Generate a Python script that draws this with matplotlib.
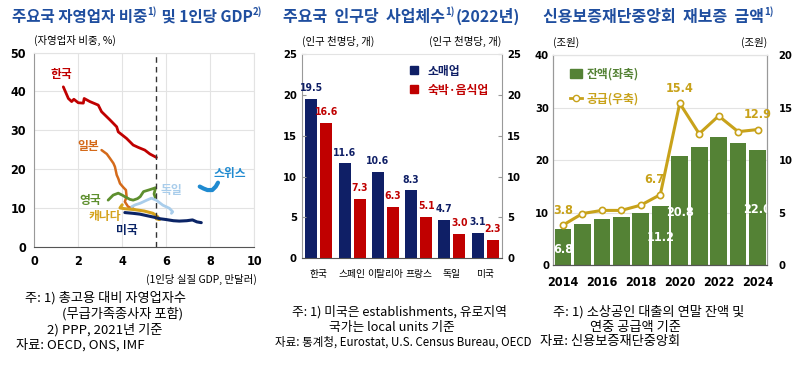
import numpy as np
import matplotlib.pyplot as plt
from matplotlib import font_manager as fm
from matplotlib.lines import Line2D
from matplotlib.patches import Patch

plt.rcParams['font.family'] = ['Noto Sans CJK KR', 'DejaVu Sans']
TITLE_COLOR = '#1F4E9F'

# condensed face for numbers if one is installed, else the CJK face
cond = [f for f in fm.fontManager.ttflist
        if f.name == 'DejaVu Sans' and f.stretch == 'condensed' and f.weight in (700, 'bold')]
if cond:
    NUM_FP = dict(fontproperties=fm.FontProperties(fname=cond[0].fname))
    NUM_SIZE = 9
else:
    NUM_FP = dict(family=['Noto Sans CJK KR'], fontweight='bold')
    NUM_SIZE = 8.5

# ---- panel 1: self-employment share vs GDP per capita ----
kor_gdp = [1.32, 1.55, 1.70, 1.80, 2.00, 2.23, 2.27, 2.53, 2.91, 3.06, 3.44, 3.75, 3.82, 4.20, 4.50, 4.73, 5.03, 5.26, 5.56]
kor_share = [41.2, 38.2, 37.4, 38.0, 37.1, 37.0, 38.2, 37.4, 36.5, 34.8, 32.7, 30.9, 29.6, 27.9, 26.2, 25.6, 24.9, 23.9, 23.0]
jpn_gdp = [3.06, 3.30, 3.44, 3.60, 3.67, 3.75, 3.82, 3.90, 4.05, 4.17, 4.20, 4.12, 4.27, 4.45, 4.58]
jpn_share = [24.9, 23.9, 22.8, 21.5, 20.6, 18.5, 17.6, 16.3, 15.3, 14.6, 12.9, 11.6, 10.3, 10.0, 9.5]
gbr_gdp = [3.36, 3.59, 3.82, 4.00, 4.12, 4.35, 4.50, 4.70, 4.82, 4.97, 5.20, 5.42, 5.52, 5.45, 5.50]
gbr_share = [12.0, 13.3, 13.8, 13.3, 12.9, 12.2, 12.0, 12.4, 12.9, 14.2, 14.6, 15.0, 15.2, 13.6, 12.8]
deu_gdp = [4.43, 4.60, 4.82, 5.12, 5.33, 5.55, 5.85, 6.15, 6.30, 6.24]
deu_share = [10.3, 10.8, 11.2, 12.0, 12.5, 12.0, 10.7, 9.9, 9.0, 8.6]
can_gdp = [4.00, 3.90, 4.10, 4.50, 5.00, 5.40, 5.60, 5.70, 5.55]
can_share = [10.8, 10.0, 9.8, 9.6, 9.2, 8.6, 7.8, 7.0, 7.2]
usa_gdp = [4.12, 4.50, 4.80, 5.12, 5.45, 5.73, 6.00, 6.33, 6.60, 6.94, 7.20, 7.40, 7.60]
usa_share = [8.8, 8.6, 8.4, 8.0, 7.6, 7.2, 7.0, 6.7, 6.6, 6.7, 6.9, 6.4, 6.2]
che_gdp = [7.53, 7.70, 7.88, 8.10, 8.26, 8.36]
che_share = [15.5, 15.0, 14.6, 14.6, 15.5, 16.5]
gdp_ref = 5.55

# ---- panel 2: businesses per 1,000 people ----
countries = ['한국', '스페인', '이탈리아', '프랑스', '독일', '미국']
retail = [19.5, 11.6, 10.6, 8.3, 4.7, 3.1]
food = [16.6, 7.3, 6.3, 5.1, 3.0, 2.3]

# ---- panel 3: re-guarantee amounts ----
years = [2014, 2015, 2016, 2017, 2018, 2019, 2020, 2021, 2022, 2023, 2024]
balance = [6.8, 7.9, 8.8, 9.2, 10.0, 11.2, 20.8, 22.4, 24.3, 23.2, 22.0]
supply = [3.8, 4.9, 5.2, 5.2, 5.7, 6.7, 15.4, 12.5, 14.2, 12.7, 12.9]
label_years = [2014, 2019, 2020, 2024]

fig = plt.figure(figsize=(8, 3.68), dpi=100)


def chain_title(x, y, parts, size=11.5):
    # first piece placed on the figure, the rest chained to its right; "sup" pieces raised
    base = fig.text(x, y, parts[0][0], fontsize=size, fontweight='bold',
                    color=TITLE_COLOR, va='bottom', ha='left')
    prev = base
    for txt, sup in parts[1:]:
        prev = fig.add_artist(plt.matplotlib.text.Annotation(
            txt, xy=(1, 0), xycoords=(prev, base), xytext=(0.3, 5.5 if sup else 0),
            textcoords='offset points', fontsize=7 if sup else size, fontweight='bold',
            color=TITLE_COLOR, ha='left', va='bottom', annotation_clip=False))
    return base


def style_nums(labels, size=None):
    for lab in labels:
        lab.set(**NUM_FP)
        lab.set_fontsize(size or NUM_SIZE)


# ================= panel 1 =================
ax1 = fig.add_axes([0.0429, 0.3296, 0.2746, 0.5272])
series = [
    (kor_gdp, kor_share, '#C00000', 2.0),
    (jpn_gdp, jpn_share, '#D46A1A', 1.8),
    (deu_gdp, deu_share, '#A9CDEB', 2.0),
    (gbr_gdp, gbr_share, '#5E8F2E', 2.0),
    (can_gdp, can_share, '#D4A21C', 2.2),
    (usa_gdp, usa_share, '#0B2466', 2.2),
    (che_gdp, che_share, '#1F8AD0', 3.0),
]
for gx, gy, col, lw in series:
    ax1.plot(gx, gy, color=col, lw=lw, solid_capstyle='round', solid_joinstyle='round')
ax1.axvline(gdp_ref, color='#333333', lw=1.0, ls=(0, (4, 3)))
ax1.set_xlim(0, 10)
ax1.set_ylim(0, 50)
ax1.set_xticks(range(0, 11, 2))
ax1.set_yticks(range(0, 51, 10))
ax1.grid(True, color='#E3E3E3', lw=0.8)
ax1.set_axisbelow(True)
for s in ['top', 'right']:
    ax1.spines[s].set_color('#E3E3E3')
ax1.spines['left'].set_color('#999999')
ax1.spines['bottom'].set_color('#555555')
ax1.tick_params(length=0, pad=6)
style_nums(ax1.get_xticklabels() + ax1.get_yticklabels())

name_pos = [('한국', 1.25, 44.3, '#C00000'), ('일본', 2.45, 25.8, '#D46A1A'),
            ('영국', 2.56, 12.0, '#5E8F2E'), ('캐나다', 3.2, 7.7, '#D4A21C'),
            ('미국', 4.2, 4.3, '#0B2466'), ('독일', 6.25, 14.6, '#A9CDEB'),
            ('스위스', 8.9, 18.9, '#1F8AD0')]
for nm, nx, ny, col in name_pos:
    ax1.text(nx, ny, nm, color=col, fontsize=8.5, fontweight='bold', ha='center', va='center')

ax1.text(0, 1.035, '(자영업자 비중, %)', transform=ax1.transAxes, fontsize=7.5, ha='left', va='bottom')
ax1.text(1.015, -0.17, '(1인당 실질 GDP, 만달러)', transform=ax1.transAxes, fontsize=7.5,
         ha='right', va='center')

# ================= panel 2 =================
ax2 = fig.add_axes([0.3779, 0.2981, 0.2492, 0.5552])
xpos = np.arange(len(countries))
w = 0.36
NAVY = '#0F1F66'
RED = '#C00000'
ax2.bar(xpos - 0.225, retail, width=w, color=NAVY)
ax2.bar(xpos + 0.225, food, width=w, color=RED)
for i in range(len(countries)):
    t1 = ax2.annotate(f'{retail[i]:.1f}', (xpos[i] - 0.225, retail[i]), xytext=(0, 4),
                      textcoords='offset points', ha='center', va='bottom', color=NAVY)
    t2 = ax2.annotate(f'{food[i]:.1f}', (xpos[i] + 0.225, food[i]), xytext=(0, 4),
                      textcoords='offset points', ha='center', va='bottom', color=RED)
    style_nums([t1, t2], 7.5)
ax2.set_xlim(-0.5, len(countries) - 0.5)
ax2.set_ylim(0, 25)
ax2.set_yticks(range(0, 26, 5))
ax2.set_xticks(xpos)
ax2.set_xticklabels(countries, fontsize=7)
ax2.tick_params(axis='x', length=0, pad=8)
ax2.tick_params(axis='y', direction='in', length=3, right=True, labelright=True, pad=4, color='#999999')
style_nums([t.label1 for t in ax2.yaxis.get_major_ticks()] + [t.label2 for t in ax2.yaxis.get_major_ticks()], 8)
ax2.spines['top'].set_color('#E3E3E3')
ax2.spines['left'].set_color('#999999')
ax2.spines['right'].set_color('#999999')
ax2.spines['bottom'].set_color('#555555')
h2 = [Line2D([], [], ls='', marker='s', ms=5.5, color=NAVY),
      Line2D([], [], ls='', marker='s', ms=5.5, color=RED)]
leg2 = ax2.legend(h2, ['소매업', '숙박·음식업'], loc='upper right', frameon=False, fontsize=8.5,
                  handletextpad=0.2, labelspacing=0.5, borderaxespad=0.5, bbox_to_anchor=(0.99, 1.0))
for t, c in zip(leg2.get_texts(), [NAVY, RED]):
    t.set_color(c)
    t.set_fontweight('bold')
ax2.text(0, 1.035, '(인구 천명당, 개)', transform=ax2.transAxes, fontsize=7.5, ha='left', va='bottom')
ax2.text(1, 1.035, '(인구 천명당, 개)', transform=ax2.transAxes, fontsize=7.5, ha='right', va='bottom')

# ================= panel 3 =================
ax3 = fig.add_axes([0.6916, 0.2799, 0.2675, 0.5706])
ax3r = ax3.twinx()
GREEN = '#548235'
GOLD = '#C8A21A'
ax3.bar(years, balance, width=0.86, color=GREEN, zorder=2)
ax3r.plot(years, supply, color=GOLD, lw=2.2, marker='o', ms=4.5, markerfacecolor='white',
          markeredgecolor=GOLD, markeredgewidth=1.2, zorder=3)
for yr, b, s in zip(years, balance, supply):
    if yr in label_years:
        tb = ax3.text(yr, b / 2 - 0.4, f'{b:.1f}', color='white', ha='center', va='center')
        dx = -4 if yr == 2019 else 0
        ts = ax3r.annotate(f'{s:.1f}', (yr, s), xytext=(dx, 6), textcoords='offset points',
                           ha='center', va='bottom', color=GOLD)
        style_nums([tb, ts])
ax3.set_xlim(2013.5, 2024.5)
ax3.set_ylim(0, 40)
ax3r.set_ylim(0, 20)
ax3.set_yticks(range(0, 41, 10))
ax3r.set_yticks(range(0, 21, 5))
ax3.set_xticks(range(2014, 2025, 2))
ax3.grid(axis='y', color='#E3E3E3', lw=0.8, zorder=0)
ax3.set_axisbelow(True)
for a in (ax3, ax3r):
    a.tick_params(length=0, pad=8)
    a.spines['top'].set_color('#E3E3E3')
    a.spines['left'].set_color('#999999')
    a.spines['right'].set_color('#999999')
    a.spines['bottom'].set_color('#555555')
ax3.tick_params(axis='y', pad=3)
style_nums(ax3.get_xticklabels())
style_nums(ax3.get_yticklabels() + ax3r.get_yticklabels(), 8)
h3 = [Patch(color=GREEN),
      Line2D([], [], color=GOLD, lw=2, marker='o', ms=4.5, markerfacecolor='white', markeredgecolor=GOLD)]
leg3 = ax3r.legend(h3, ['잔액(좌축)', '공급(우축)'], loc='upper left', frameon=False, fontsize=8.5,
                   handlelength=1.0, handletextpad=0.4, labelspacing=1.0, bbox_to_anchor=(0.03, 0.99))
for t, c in zip(leg3.get_texts(), [GREEN, GOLD]):
    t.set_color(c)
    t.set_fontweight('bold')
ax3.text(0, 1.035, '(조원)', transform=ax3.transAxes, fontsize=7.5, ha='left', va='bottom')
ax3.text(1, 1.035, '(조원)', transform=ax3.transAxes, fontsize=7.5, ha='right', va='bottom')

# ================= titles =================
TY = 1 - 25 / 368
chain_title(12 / 800, TY, [('주요국 자영업자 비중', False), ('1)', True),
                           (' 및 1인당 GDP', False), ('2)', True)], size=11.2)
chain_title(283 / 800, TY, [('주요국  인구당  사업체수', False), ('1)', True),
                            ('(2022년)', False)])
chain_title(543 / 800, TY, [('신용보증재단중앙회  재보증  금액', False), ('1)', True)])

# ================= footnotes =================
notes = [
    (25, 298, '주: 1) 총고용 대비 자영업자수', 9.5),
    (62, 314, '(무급가족종사자 포함)', 9.5),
    (47, 330, '2) PPP, 2021년 기준', 9.5),
    (16, 345, '자료: OECD, ONS, IMF', 9.5),
    (292, 312, '주: 1) 미국은 establishments, 유로지역', 9.2),
    (329, 327, '국가는 local units 기준', 9.2),
    (275, 342, '자료: 통계청, Eurostat, U.S. Census Bureau, OECD', 8.3),
    (553, 312, '주: 1) 소상공인 대출의 연말 잔액 및', 9.5),
    (590, 327, '연중 공급액 기준', 9.5),
    (540, 342, '자료: 신용보증재단중앙회', 9.5),
]
for nx, ny, txt, fs in notes:
    fig.text(nx / 800, 1 - ny / 368, txt, fontsize=fs, ha='left', va='center')

fig.savefig('out.png', dpi=100)
